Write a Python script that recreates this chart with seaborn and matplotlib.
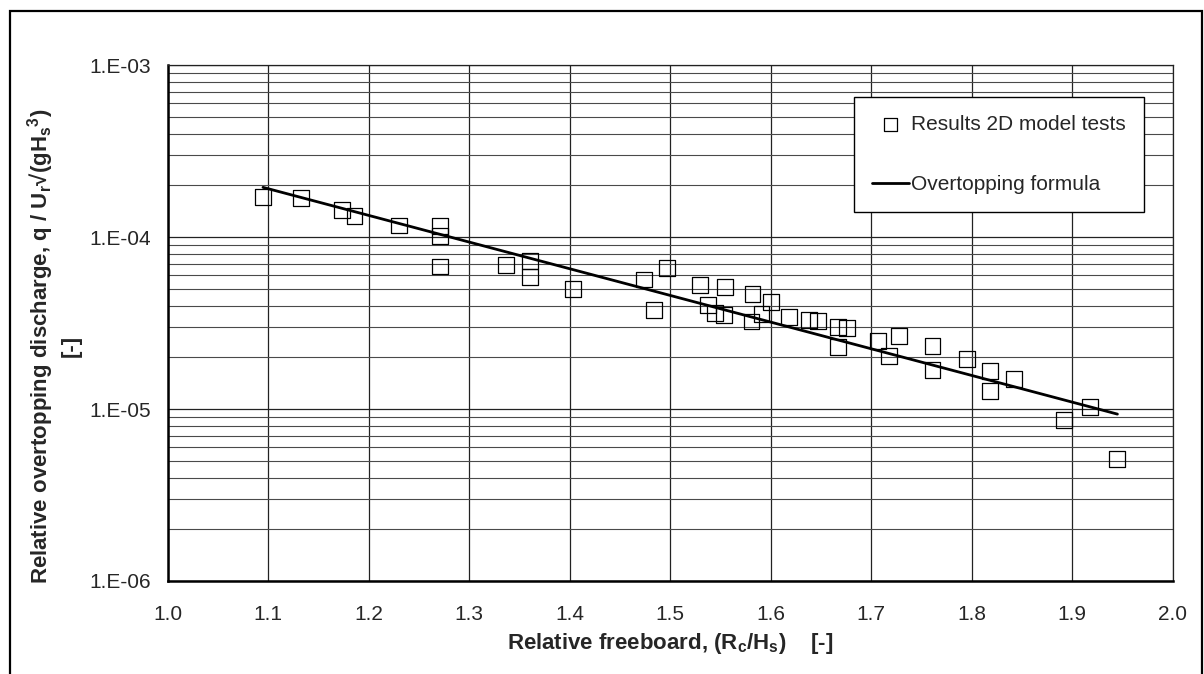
import numpy as np
import pandas as pd
import matplotlib
matplotlib.use("Agg")
import matplotlib.pyplot as plt
from matplotlib.ticker import FixedLocator, FuncFormatter, LogLocator, NullFormatter
from matplotlib.patches import Rectangle
import seaborn as sns

# Relative freeboard Rc/Hs and relative overtopping discharge from the 2D model tests
x_tests = [1.095, 1.133, 1.174, 1.186, 1.230, 1.271, 1.271, 1.271, 1.337, 1.361,
           1.361, 1.403, 1.474, 1.484, 1.497, 1.530, 1.538, 1.545, 1.554, 1.555,
           1.582, 1.581, 1.591, 1.600, 1.618, 1.638, 1.647, 1.667, 1.676, 1.667,
           1.707, 1.728, 1.718, 1.761, 1.761, 1.795, 1.818, 1.818, 1.842, 1.892,
           1.918, 1.945]
q_tests = [1.72e-4, 1.70e-4, 1.44e-4, 1.33e-4, 1.17e-4, 1.16e-4, 1.02e-4, 6.75e-5, 6.86e-5, 7.28e-5,
           5.90e-5, 5.02e-5, 5.67e-5, 3.78e-5, 6.65e-5, 5.30e-5, 4.04e-5, 3.61e-5, 3.53e-5, 5.14e-5,
           4.68e-5, 3.23e-5, 3.58e-5, 4.22e-5, 3.43e-5, 3.31e-5, 3.27e-5, 3.02e-5, 2.96e-5, 2.31e-5,
           2.49e-5, 2.67e-5, 2.04e-5, 2.33e-5, 1.68e-5, 1.96e-5, 1.66e-5, 1.27e-5, 1.50e-5, 8.63e-6,
           1.03e-5, 5.14e-6]

# Overtopping formula (straight on the semi-log scale) evaluated at its end points
x_formula = [1.095, 1.945]
q_formula = [1.95e-4, 9.35e-6]

x_ticks = [1.0, 1.1, 1.2, 1.3, 1.4, 1.5, 1.6, 1.7, 1.8, 1.9, 2.0]
y_ticks = [1e-6, 1e-5, 1e-4, 1e-3]

tests = pd.DataFrame({"x": x_tests, "q": q_tests})
formula = pd.DataFrame({"x": x_formula, "q": q_formula})

sns.set_style("white")
plt.rcParams["font.family"] = ["Liberation Sans", "DejaVu Sans"]
plt.rcParams["mathtext.fontset"] = "custom"
plt.rcParams["mathtext.rm"] = "Liberation Sans"
plt.rcParams["mathtext.bf"] = "Liberation Sans:bold"
plt.rcParams["mathtext.default"] = "bf"

fig = plt.figure(figsize=(12.04, 6.74), dpi=100)
W, H = 1204, 674
ax = fig.add_axes([167.5 / W, 1 - 581 / H, (1172.7 - 167.5) / W, (581 - 65.3) / H])

ax.set_yscale("log")
ax.set_xlim(1.0, 2.0)
ax.set_ylim(1e-6, 1e-3)

# grid
ax.xaxis.set_major_locator(FixedLocator(x_ticks))
ax.yaxis.set_major_locator(FixedLocator(y_ticks))
ax.yaxis.set_minor_locator(LogLocator(base=10, subs=np.arange(2, 10), numticks=20))
ax.yaxis.set_minor_formatter(NullFormatter())
ax.grid(True, which="major", axis="both", color="#222222", lw=0.9)
ax.grid(True, which="minor", axis="y", color="#4a4a4a", lw=0.8)
ax.set_axisbelow(True)

sns.scatterplot(data=tests, x="x", y="q", ax=ax, marker="s", s=130,
                facecolor="none", edgecolor="black", linewidth=0.9,
                label="Results 2D model tests", zorder=3)
sns.lineplot(data=formula, x="x", y="q", ax=ax, color="black", lw=2.0,
             label="Overtopping formula", zorder=4)

ax.xaxis.set_major_formatter(FuncFormatter(lambda v, p: f"{v:.1f}"))
ax.yaxis.set_major_formatter(FuncFormatter(lambda v, p: f"1.E-{int(round(-np.log10(v))):02d}"))
ax.tick_params(axis="both", which="major", direction="out", length=6, width=1,
               labelsize=15, color="black")
ax.tick_params(axis="x", which="major", pad=11)
ax.tick_params(axis="y", which="major", pad=6)
ax.tick_params(axis="y", which="minor", length=0)

for side in ["left", "bottom"]:
    ax.spines[side].set_color("black")
    ax.spines[side].set_linewidth(1.8)
for side in ["top", "right"]:
    ax.spines[side].set_color("#222222")
    ax.spines[side].set_linewidth(0.9)

ax.set_xlabel(r"Relative freeboard, (R$_c$/H$_s$)    [-]", fontsize=16,
              fontweight="bold", labelpad=5)
ax.set_ylabel("Relative overtopping discharge, q / U$_r$\u221a(gH$_s$$^3$)\n[-]",
              fontsize=16, fontweight="bold", linespacing=1.3)
ax.yaxis.set_label_coords(-0.085, 0.455)

leg = ax.legend(loc="upper left", bbox_to_anchor=(854 / W, 1 - 97 / H),
                bbox_transform=fig.transFigure, borderaxespad=0, frameon=True,
                fancybox=False, edgecolor="black", fontsize=15, handlelength=1.8,
                handletextpad=0.1, labelspacing=2.0, borderpad=0.85, markerscale=0.82)
leg.get_frame().set_linewidth(1.0)
leg.get_frame().set_facecolor("white")
leg.get_frame().set_alpha(1)

# outer chart border
fig.patches.append(Rectangle((10 / W, -0.05), (1202 - 10) / W, 1.05 - 11 / H,
                             transform=fig.transFigure, fill=False,
                             edgecolor="black", lw=1.6))

fig.savefig("out.png", dpi=100)
